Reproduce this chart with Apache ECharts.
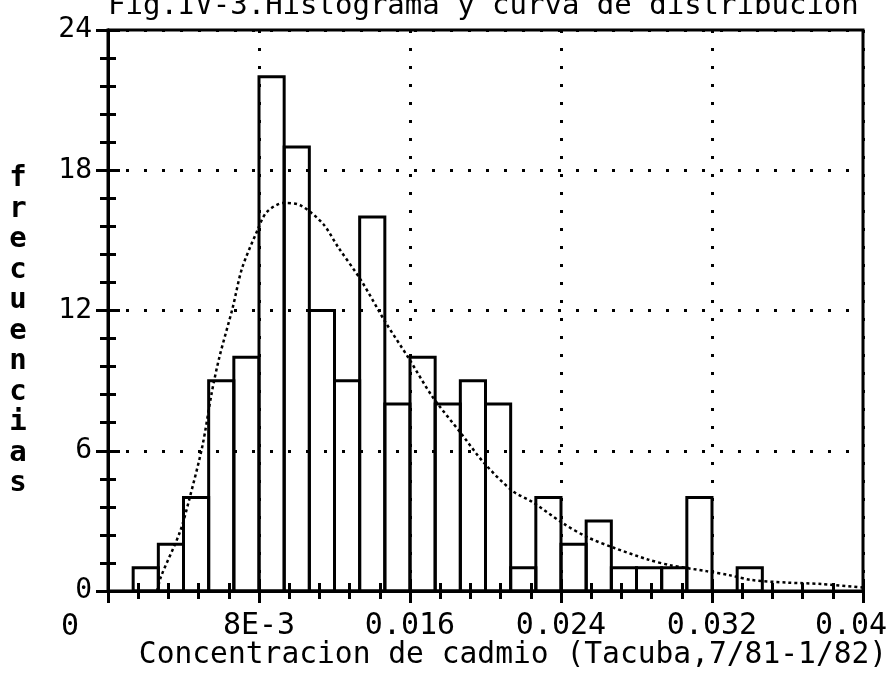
<!DOCTYPE html>
<html>
<head>
<meta charset="utf-8">
<script src="https://cdn.jsdelivr.net/npm/echarts@6/dist/echarts.min.js"></script>
<style>
html,body{margin:0;padding:0;background:#fff;}
#chart{width:891px;height:676px;}
</style>
</head>
<body>
<div id="chart"></div>
<script>
// ---- data ----
const binWidth = 0.04 / 30;
const firstBin = 1;
const counts = [1, 2, 4, 9, 10, 22, 19, 12, 9, 16, 8, 10, 8, 9, 8, 1, 4, 2, 3, 1, 1, 1, 4, 0, 1];
const curveX = [0.0026, 0.0028, 0.0038, 0.0043, 0.0050, 0.0055, 0.0059, 0.0066, 0.0071, 0.0079, 0.0084, 0.0093, 0.0102, 0.0114, 0.0122, 0.0134, 0.0147, 0.0159, 0.0172, 0.0187, 0.0199, 0.0214, 0.0225, 0.0241, 0.0254, 0.0268, 0.0286, 0.0298, 0.0317, 0.0329, 0.0341, 0.0360, 0.0378, 0.0400];
const curveY = [0.0, 0.6, 2.5, 3.9, 6.2, 8.5, 10.0, 12.1, 13.8, 15.4, 16.2, 16.6, 16.5, 15.7, 14.7, 13.3, 11.5, 10.0, 8.3, 6.75, 5.5, 4.3, 3.8, 2.9, 2.3, 1.85, 1.35, 1.1, 0.85, 0.68, 0.47, 0.36, 0.3, 0.15];
const xTickLabels = ['0', '8E-3', '0.016', '0.024', '0.032', '0.04'];
const yTickLabels = ['0', '6', '12', '18', '24'];
const titleText = 'Fig.IV-3.Histograma y curva de distribucion';
const xTitle = 'Concentracion de cadmio (Tacuba,7/81-1/82)';
const yTitle = 'frecuencias';

// ---- build ----
const histData = counts.map((c, i) => [(firstBin + i) * binWidth, (firstBin + i + 1) * binWidth, c]);
const curveData = curveX.map((x, i) => [x, curveY[i]]);
const FONT = '"DejaVu Sans Mono", "Liberation Mono", monospace';

const chart = echarts.init(document.getElementById('chart'));
const tickCommon = {
  axisLine: {show: true, lineStyle: {color: '#000', width: 3}},
  axisTick: {show: true, inside: true, length: 12, lineStyle: {color: '#000', width: 3}},
  minorTick: {show: true, splitNumber: 5, length: 8, lineStyle: {color: '#000', width: 3}},
};
const dotted = {show: true, lineStyle: {color: '#000', width: 3, type: [3, 15], cap: 'butt'}};

chart.setOption({
  backgroundColor: '#fff',
  animation: false,
  grid: {left: 108, right: 28, top: 30, bottom: 85, show: true, borderColor: '#000', borderWidth: 3, backgroundColor: 'transparent'},
  xAxis: [
    Object.assign({
      type: 'value', min: 0, max: 0.04, interval: 0.008, position: 'bottom',
      splitLine: dotted,
      axisLabel: {
        show: true, margin: 20, fontFamily: FONT, fontSize: 30, color: '#000', showMinLabel: false,
        formatter: v => {
          const i = Math.round(v / 0.008);
          return i === 5 ? '{last|' + xTickLabels[i] + '}' : xTickLabels[i];
        },
        rich: {last: {fontFamily: FONT, fontSize: 30, color: '#000', padding: [0, 24, 0, 0]}}
      }
    }, tickCommon),
    Object.assign({
      type: 'value', min: 0, max: 0.04, interval: 0.008, position: 'top',
      splitLine: {show: false}, axisLabel: {show: false}
    }, tickCommon)
  ],
  yAxis: [
    Object.assign({
      type: 'value', min: 0, max: 24, interval: 6, position: 'left',
      splitLine: dotted,
      axisLabel: {
        show: true, margin: 16, fontFamily: FONT, fontSize: 28, color: '#000',
        formatter: v => yTickLabels[Math.round(v / 6)]
      }
    }, tickCommon),
    Object.assign({
      type: 'value', min: 0, max: 24, interval: 6, position: 'right',
      splitLine: {show: false}, axisLabel: {show: false}
    }, tickCommon)
  ],
  series: [
    {
      type: 'custom',
      xAxisIndex: 0, yAxisIndex: 0,
      data: histData,
      encode: {x: [0, 1], y: 2},
      renderItem: function (params, api) {
        const x0 = api.value(0), x1 = api.value(1), c = api.value(2);
        const p0 = api.coord([x0, c]);
        const p1 = api.coord([x1, 0]);
        return {
          type: 'rect',
          shape: {x: p0[0], y: p0[1], width: p1[0] - p0[0], height: p1[1] - p0[1]},
          style: {fill: 'none', stroke: '#000', lineWidth: 3}
        };
      },
      z: 3
    },
    {
      type: 'line',
      xAxisIndex: 0, yAxisIndex: 0,
      data: curveData,
      smooth: 0.3,
      showSymbol: false,
      symbol: 'none',
      lineStyle: {color: '#000', width: 2.5, type: [3, 3]},
      z: 4
    }
  ],
  graphic: [
    {type: 'text', x: 108, y: 6, style: {text: titleText, font: '29px ' + FONT, fill: '#000', align: 'left', verticalAlign: 'middle'}},
    {type: 'text', x: 513, y: 655, style: {text: xTitle, font: '29.6px ' + FONT, fill: '#000', align: 'center', verticalAlign: 'middle'}},
    {type: 'text', x: 70, y: 627, style: {text: xTickLabels[0], font: '30px ' + FONT, fill: '#000', align: 'center', verticalAlign: 'middle'}},
    {type: 'text', x: 18, y: 331, style: {text: yTitle.split('').join('\n'), font: 'bold 29px ' + FONT, fill: '#000', align: 'center', verticalAlign: 'middle', lineHeight: 30.5}}
  ]
});
</script>
</body>
</html>
